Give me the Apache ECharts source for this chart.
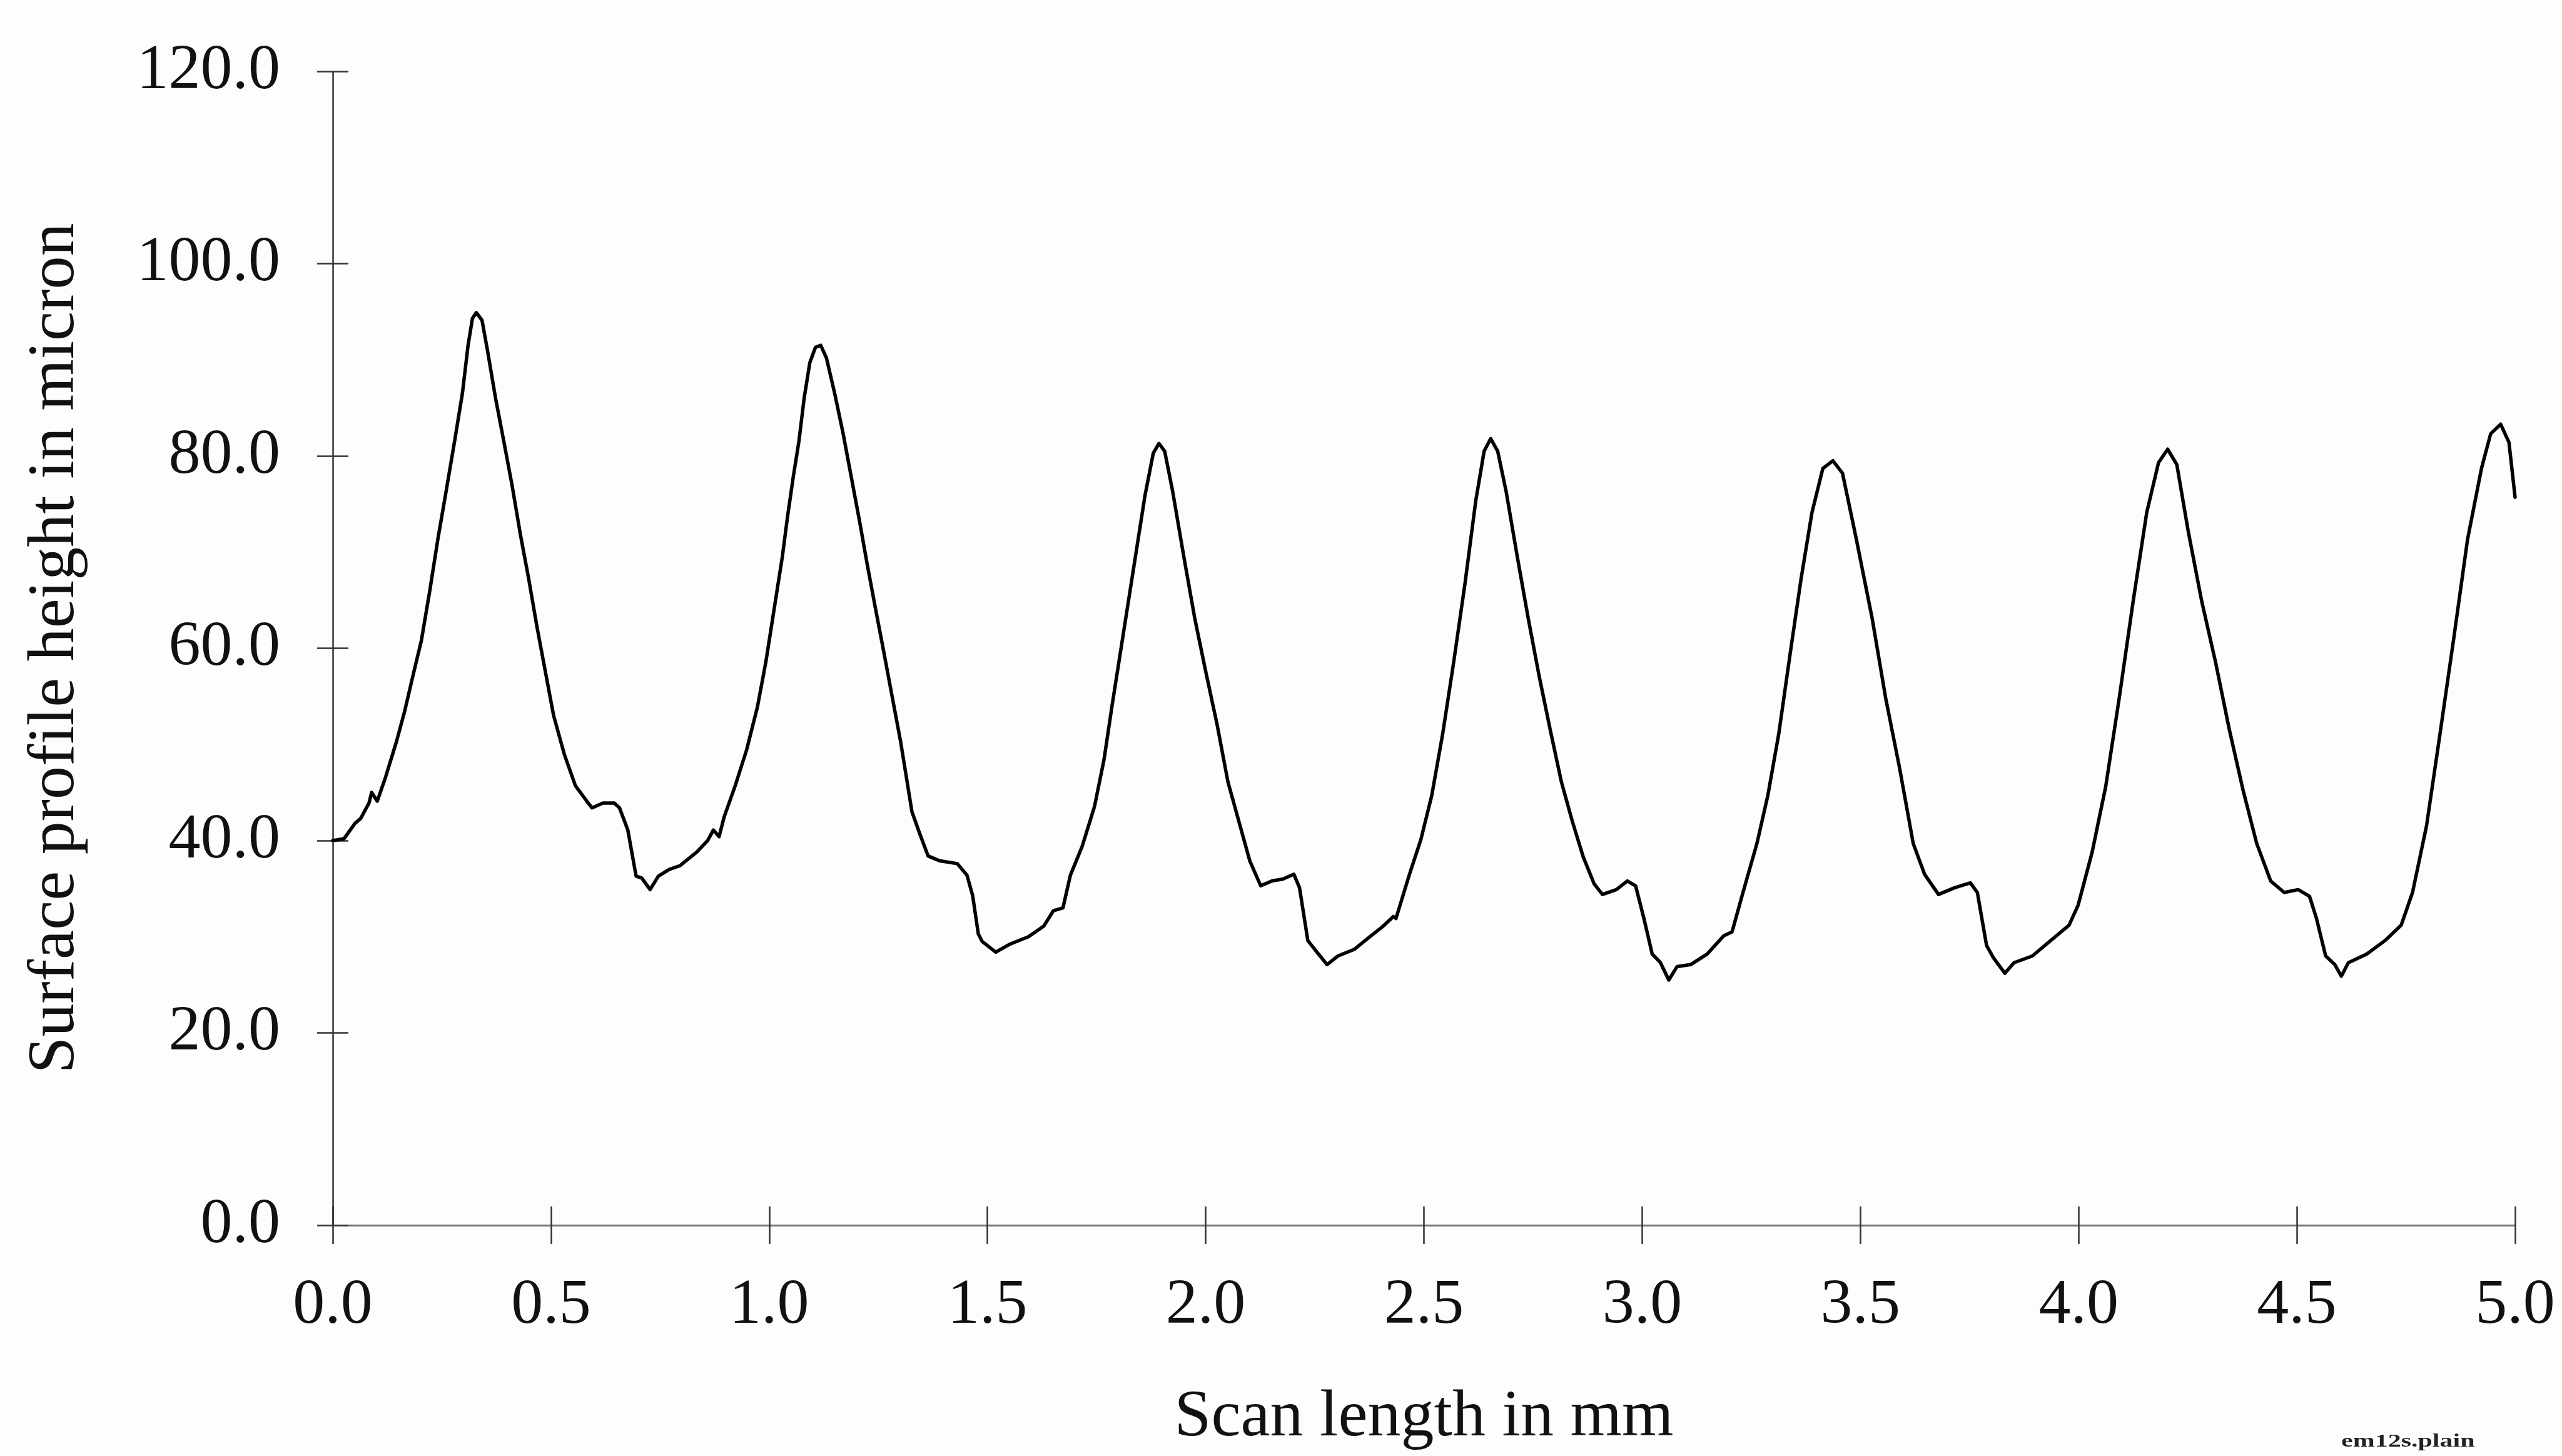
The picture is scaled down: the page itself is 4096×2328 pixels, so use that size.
<!DOCTYPE html>
<html>
<head>
<meta charset="utf-8">
<title>Surface profile</title>
<script src="https://cdn.jsdelivr.net/npm/echarts@6.0.0/dist/echarts.min.js"></script>
<style>
	html,body{margin:0;padding:0;background:#fdfdfd;}
	#box1{width:4096px;height:2328px;}
</style>
</head>
<body>
<div id="box1"></div>
<script>
// scan length (mm)
var scanX = [
	0.000,0.026,0.051,0.064,0.083,0.089,0.102,0.121,0.146,0.165,0.184,0.203,0.222,0.241,0.260,0.279,0.297,0.310,0.320,0.329,
	0.342,0.354,0.373,0.392,0.411,0.430,0.449,0.468,0.487,0.506,0.531,0.556,0.582,0.594,0.619,0.645,0.657,0.676,0.695,0.708,
	0.727,0.746,0.771,0.796,0.834,0.859,0.872,0.885,0.897,0.922,0.948,0.973,0.992,1.011,1.030,1.042,1.055,1.068,1.080,1.093,
	1.106,1.118,1.131,1.150,1.169,1.188,1.207,1.225,1.244,1.263,1.282,1.301,1.327,1.345,1.364,1.390,1.431,1.453,1.466,1.479,
	1.488,1.519,1.550,1.594,1.629,1.651,1.673,1.690,1.717,1.745,1.767,1.785,1.804,1.823,1.842,1.861,1.880,1.893,1.906,1.924,
	1.950,1.975,2.000,2.026,2.051,2.076,2.101,2.126,2.152,2.177,2.202,2.215,2.234,2.253,2.278,2.303,2.341,2.379,2.404,2.430,
	2.436,2.467,2.493,2.518,2.543,2.568,2.594,2.619,2.638,2.653,2.669,2.688,2.714,2.739,2.764,2.789,2.815,2.840,2.865,2.890,
	2.909,2.941,2.966,2.985,3.004,3.023,3.042,3.061,3.080,3.111,3.149,3.187,3.206,3.231,3.263,3.288,3.313,3.339,3.364,3.389,
	3.414,3.437,3.459,3.490,3.527,3.558,3.590,3.621,3.647,3.679,3.716,3.752,3.768,3.789,3.805,3.831,3.852,3.894,3.936,3.978,
	3.999,4.031,4.062,4.093,4.125,4.156,4.183,4.204,4.225,4.251,4.282,4.314,4.345,4.377,4.408,4.440,4.471,4.503,4.529,4.545,
	4.566,4.587,4.602,4.618,4.660,4.702,4.739,4.765,4.797,4.828,4.860,4.891,4.923,4.944,4.967,4.986,5.000
];
// surface profile height (micron) at each scanX
var profileY = [
	40.0,40.2,41.8,42.3,43.9,45.0,44.1,46.6,50.3,53.5,57.2,60.8,65.9,71.4,76.4,81.5,86.5,91.5,94.3,94.9,
	94.1,91.1,86.0,81.5,76.9,71.8,67.2,62.2,57.6,53.0,48.9,45.7,44.1,43.4,43.9,43.9,43.4,41.1,36.3,36.1,
	34.9,36.3,37.0,37.4,38.8,40.0,41.1,40.4,42.5,45.7,49.4,53.9,58.5,64.0,69.5,73.7,77.8,81.5,86.0,89.7,
	91.3,91.5,90.2,86.5,82.4,77.8,73.2,68.6,64.0,59.5,54.9,50.3,43.0,40.7,38.4,37.9,37.6,36.4,34.3,30.3,
	29.5,28.4,29.2,30.0,31.1,32.7,33.0,36.4,39.4,43.5,48.4,53.9,59.4,64.9,70.4,75.9,80.3,81.3,80.5,76.4,
	69.5,63.1,57.6,52.1,46.1,42.0,37.9,35.3,35.8,36.0,36.5,35.1,29.6,28.5,27.1,28.0,28.7,30.1,31.0,32.1,
	31.9,36.5,40.1,44.7,51.1,58.5,66.7,75.4,80.5,81.8,80.5,76.4,69.5,63.1,57.1,51.6,46.1,42.0,38.3,35.5,
	34.4,34.9,35.8,35.3,31.9,28.2,27.3,25.5,26.9,27.1,28.2,30.1,30.5,34.6,39.7,44.7,51.1,59.4,67.2,74.1,
	78.7,79.5,78.2,71.5,63.1,54.8,47.5,39.7,36.5,34.4,35.1,35.6,34.6,29.1,27.8,26.2,27.3,28.0,29.6,31.2,
	33.3,38.8,45.6,54.8,64.9,74.1,79.3,80.7,79.1,72.2,64.9,58.5,51.6,45.2,39.7,35.8,34.6,34.9,34.2,31.9,
	28.0,27.1,25.9,27.3,28.2,29.6,31.2,34.6,41.5,51.1,61.2,71.3,78.7,82.3,83.3,81.4,75.7
];
var xTicks = [0, 0.5, 1.0, 1.5, 2.0, 2.5, 3.0, 3.5, 4.0, 4.5, 5.0];
var yTicks = [0, 20, 40, 60, 80, 100, 120];
var xTitle = 'Scan length in mm';
var yTitle = 'Surface profile height in micron';
var fileTag = 'em12s.plain';

var index={
	// 把两个数组拼成 [x,y] 点
	points:function(a,b){
		var out=[];
		for(var i=0;i<a.length;i++){
			out.push([a[i],b[i]]);
		}
		return out;
	},
	draw:function(){
		var mychart=echarts.init(document.getElementById('box1'));
		var serif='Liberation Serif';
		var option={
			backgroundColor:'#fdfdfd',
			animation:false,
			grid:{left:532,right:75,top:114,bottom:369},
			xAxis:[
			{
				type:'value',
				min:xTicks[0],
				max:xTicks[xTicks.length-1],
				interval:xTicks[1]-xTicks[0],
				name:xTitle,
				nameLocation:'middle',
				nameGap:255,
				nameTextStyle:{fontFamily:serif,fontSize:106,color:'#111'},
				axisLine:{lineStyle:{color:'#707070',width:3}},
				axisTick:{length:30,lineStyle:{color:'#333',width:2.5}},
				axisLabel:{margin:78,fontFamily:serif,fontSize:102,color:'#111',
					formatter:function(v){return v.toFixed(1);}},
				splitLine:{show:false}
			},
			{
				// 朝内的一半刻度
				type:'value',
				position:'bottom',
				min:xTicks[0],
				max:xTicks[xTicks.length-1],
				interval:xTicks[1]-xTicks[0],
				axisLine:{show:false},
				axisTick:{inside:true,length:30,lineStyle:{color:'#333',width:2.5}},
				axisLabel:{show:false},
				splitLine:{show:false}
			}
			],
			yAxis:[
			{
				type:'value',
				min:yTicks[0],
				max:yTicks[yTicks.length-1],
				interval:yTicks[1]-yTicks[0],
				name:yTitle,
				nameLocation:'middle',
				nameGap:390,
				nameTextStyle:{fontFamily:serif,fontSize:106,color:'#111'},
				axisLine:{show:true,lineStyle:{color:'#333',width:2.5}},
				axisTick:{show:true,length:25,lineStyle:{color:'#333',width:2.5}},
				axisLabel:{margin:84,fontFamily:serif,fontSize:102,color:'#111',padding:[0,0,50,0],
					formatter:function(v){return v.toFixed(1);}},
				splitLine:{show:false}
			},
			{
				type:'value',
				position:'left',
				min:yTicks[0],
				max:yTicks[yTicks.length-1],
				interval:yTicks[1]-yTicks[0],
				axisLine:{show:false},
				axisTick:{show:true,inside:true,length:25,lineStyle:{color:'#333',width:2.5}},
				axisLabel:{show:false},
				splitLine:{show:false}
			}
			],
			series:[
			{
				type:'line',
				data:index.points(scanX,profileY),
				showSymbol:false,
				smooth:false,
				lineStyle:{color:'#000',width:5.5,join:'round',cap:'round'}
			}
			],
			graphic:[
			{
				type:'text',
				left:3743,
				top:2290,
				scaleX:1.4,
				style:{text:fileTag,font:'bold 30px "Liberation Serif"',fill:'#222'}
			}
			]
		};
		mychart.setOption(option);
	}
};

index.draw();
</script>
</body>
</html>
